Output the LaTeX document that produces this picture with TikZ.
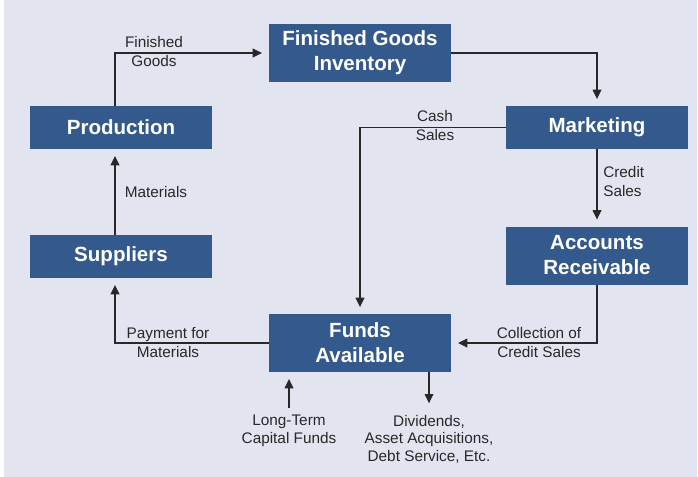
\documentclass[tikz,border=0pt]{standalone}
\usepackage{fontspec}
\setmainfont{Liberation Sans}
\usetikzlibrary{arrows.meta}

\definecolor{caixa}{RGB}{52,89,140}
\definecolor{fundo}{RGB}{226,229,239}
\definecolor{traco}{RGB}{40,40,40}

\tikzset{
  etapa/.style={fill=caixa, text=white, align=center, inner sep=0pt,
    font=\fontsize{15.4}{18.75}\selectfont\bfseries,
    minimum width=136.5pt, minimum height=32.25pt},
  alta/.style={minimum height=43.5pt},
  fluxo/.style={draw=traco, line width=0.95pt, shorten >=5pt,
    -{Triangle[length=7pt,width=6.5pt]}},
  rotulo/.style={font=\fontsize{11.5}{14.25}\selectfont, text=traco,
    align=center, inner sep=0pt},
  rodape/.style={rotulo, anchor=north, font=\fontsize{11.5}{13.1}\selectfont}
}

\begin{document}
\begin{tikzpicture}[x=0.75pt, y=-0.75pt]
      % fundo
      \fill[white] (0,0) rectangle (698,477);
      \fill[fundo] (4,0) rectangle (697,477);

      % caixas do ciclo
      \node[etapa, alta] (estoque) at (360,53) {Finished Goods\\Inventory};
      \node[etapa] (producao) at (121,127.5) {Production};
      \node[etapa] (marketing) at (597,127.5) {Marketing};
      \node[etapa] (fornec) at (121,256.5) {Suppliers};
      \node[etapa, alta] (receber) at (597,255.5) {Accounts\\Receivable};
      \node[etapa, alta] (fundos) at (360,343) {Funds\\Available};

      % ligações
      \draw[fluxo] ([xshift=-4.5pt]producao.north) |- (estoque.west);
      \draw[fluxo] (estoque.east) -| (marketing.north);
      \draw[fluxo] (marketing.west) -| (fundos.north);
      \draw[fluxo] (marketing.south) -- (receber.north);
      \draw[fluxo] (receber.south) |- (fundos.east);
      \draw[fluxo] (fundos.west) -| ([xshift=-4.5pt]fornec.south);
      \draw[fluxo] ([xshift=-4.5pt]fornec.north) -- ([xshift=-4.5pt]producao.south);

      % entrada e saída de fundos
      \coordinate (capital) at (289,408);
      \coordinate (saida) at (429,410);
      \draw[fluxo] (capital) -- (capital |- fundos.south);
      \draw[fluxo] (fundos.south -| saida) -- (saida);

      % rótulos
      \node[rotulo] (lprod) at (154,52) {Finished\\Goods};
      \node[rotulo] (lcaixa) at (435,126) {Cash\\Sales};
      \node[rotulo, align=left, anchor=west] (lcred) at (603,182) {Credit\\Sales};
      \node[rotulo] (lcobr) at (539,343) {Collection of\\Credit Sales};
      \node[rotulo] (lpag) at (168,343) {Payment for\\Materials};
      \node[rotulo] (lmat) at (156,192) {Materials};
      \node[rodape] (lcap) at (289,415) {Long-Term\\Capital Funds};
      \node[rodape] (lsaida) at (429,415) {Dividends,\\Asset Acquisitions,\\Debt Service, Etc.};
\end{tikzpicture}
\end{document}
